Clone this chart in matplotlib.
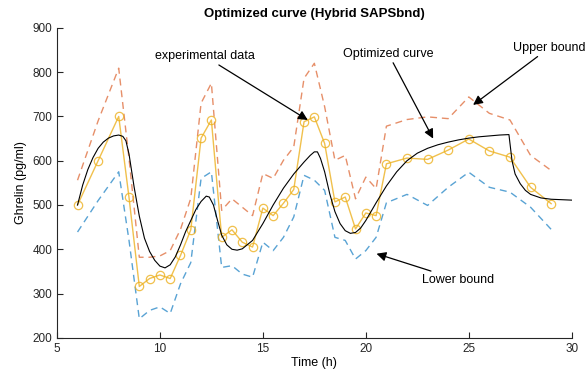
import matplotlib
matplotlib.use('Agg')
import matplotlib.pyplot as plt

# experimental data (h, pg/ml)
exp_t = [6, 7, 8, 8.5, 9, 9.5, 10, 10.5, 11, 11.5, 12, 12.5, 13, 13.5, 14, 14.5,
         15, 15.5, 16, 16.5, 17, 17.5, 18, 18.5, 19, 19.5, 20, 20.5, 21, 22, 23,
         24, 25, 26, 27, 28, 29]
exp_y = [500, 600, 700, 517, 316, 334, 342, 334, 386, 444, 651, 692, 427, 444,
         416, 405, 493, 476, 504, 535, 688, 699, 639, 507, 518, 446, 482, 476,
         593, 606, 603, 624, 649, 622, 608, 540, 503]
upper_y = [556, 690, 809, 605, 382, 382, 385, 397, 445, 515, 730, 775, 488, 514,
           495, 476, 571, 560, 601, 631, 786, 820, 722, 601, 612, 514, 563, 537,
           678, 693, 699, 695, 744, 707, 692, 612, 578]
lower_y = [439, 510, 575, 420, 243, 262, 270, 255, 322, 370, 560, 575, 359, 363,
           344, 337, 416, 397, 427, 473, 567, 556, 533, 427, 420, 378, 397, 427,
           505, 524, 499, 540, 574, 540, 529, 495, 445]

# optimized model curve
opt_t = [6.0, 6.25, 6.5, 6.75, 7.0, 7.25, 7.5, 7.75, 8.0, 8.2, 8.35, 8.5, 8.75,
         9.0, 9.25, 9.5, 9.75, 10.0, 10.25, 10.5, 10.75, 11.0, 11.25, 11.5,
         11.75, 12.0, 12.25, 12.4, 12.6, 12.8, 13.0, 13.25, 13.5, 13.75, 14.0,
         14.5, 15.0, 15.5, 16.0, 16.5, 17.0, 17.3, 17.5, 17.65, 17.8, 18.0,
         18.25, 18.5, 18.75, 19.0, 19.25, 19.5, 19.75, 20.0, 20.5, 21.0, 21.5,
         22.0, 22.5, 23.0, 23.5, 24.0, 24.5, 25.0, 25.5, 26.0, 26.5, 26.95,
         27.1, 27.25, 27.5, 27.75, 28.0, 28.5, 29.0, 29.5, 30.0]
opt_y = [500, 545, 580, 607, 628, 642, 651, 656, 658, 655, 645, 615, 540,
         475, 425, 395, 375, 362, 358, 365, 383, 410, 440, 465,
         490, 508, 520, 518, 500, 465, 432, 410, 400, 398, 401,
         420, 458, 500, 538, 570, 597, 612, 620, 620, 605, 575,
         525, 485, 458, 442, 436, 438, 448, 465, 505, 543, 575,
         600, 617, 628, 636, 642, 647, 651, 654, 656, 658, 659,
         600, 570, 548, 533, 524, 516, 513, 512, 511]

plt.rcParams['font.family'] = ['Liberation Sans', 'DejaVu Sans']

fig = plt.figure(figsize=(5.87, 3.87), dpi=100)
ax = fig.add_axes([0.097, 0.127, 0.877, 0.801])

ax.plot(exp_t, upper_y, '--', color='#D95319', lw=1, alpha=0.65, dashes=(5, 3.5))
ax.plot(exp_t, lower_y, '--', color='#0072BD', lw=1, alpha=0.65, dashes=(5, 3.5))
ax.plot(exp_t, exp_y, '-o', color='#EDB120', lw=1, alpha=0.8, ms=6,
        mfc='none', mew=0.9)
ax.plot(opt_t, opt_y, '-', color='k', lw=0.8)

ax.set_xlim(5, 30)
ax.set_ylim(200, 900)
ax.set_xticks(range(5, 31, 5))
ax.set_yticks(range(200, 901, 100))
ax.tick_params(direction='in', length=4, labelsize=8.5, colors='#262626')
for s in ['top', 'right']:
    ax.spines[s].set_visible(False)
for s in ['left', 'bottom']:
    ax.spines[s].set_color('#262626')
    ax.spines[s].set_linewidth(0.8)

ax.set_title('Optimized curve (Hybrid SAPSbnd)', fontsize=9.5, fontweight='bold', pad=8)
ax.set_xlabel('Time (h)', fontsize=9, labelpad=2)
ax.set_ylabel('Ghrelin (pg/ml)', fontsize=9, labelpad=4)

arrow = dict(arrowstyle='-|>', color='k', lw=0.9, mutation_scale=14, shrinkA=0, shrinkB=0)
ax.annotate('experimental data', xy=(17.18, 692), xytext=(14.6, 836),
            ha='right', va='center', fontsize=9, arrowprops=arrow)
ax.annotate('Optimized curve', xy=(23.27, 650), xytext=(21.1, 841),
            ha='center', va='center', fontsize=9, arrowprops=arrow)
ax.annotate('Upper bound', xy=(25.21, 726), xytext=(27.15, 855),
            ha='left', va='center', fontsize=9, arrowprops=arrow,
            annotation_clip=False)
ax.annotate('Lower bound', xy=(20.52, 390), xytext=(22.75, 331),
            ha='left', va='center', fontsize=9, arrowprops=arrow)

fig.savefig('out.png', dpi=100)
